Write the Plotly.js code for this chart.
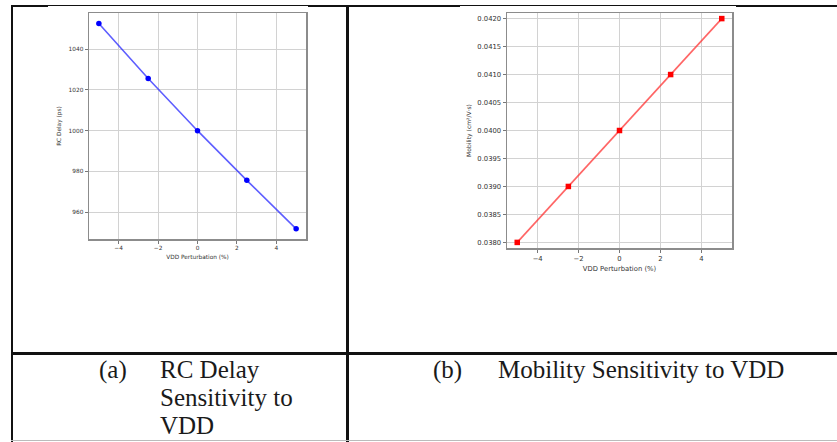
<!DOCTYPE html>
<html>
<head>
<meta charset="utf-8">
<script src="https://cdn.plot.ly/plotly-3.0.1.min.js"></script>
<style>
  html, body { margin: 0; padding: 0; background: #fff; width: 837px; height: 442px; overflow: hidden; }
  .ln { position: absolute; background: #111; }
  .cap { position: absolute; font-family: "Liberation Serif", "Times New Roman", serif; font-size: 25px; line-height: 28px; color: #1a1a1a; white-space: nowrap; }
  #c1, #c2 { position: absolute; background: #fff; }
</style>
</head>
<body>
<div class="ln" style="left:11px; top:5px; width:826px; height:2px;"></div>
<div class="ln" style="left:11px; top:5px; width:2px; height:437px;"></div>
<div class="ln" style="left:346px; top:5px; width:3px; height:437px;"></div>
<div class="ln" style="left:11px; top:352px; width:826px; height:3px;"></div>
<div class="ln" style="left:11px; top:440px; width:826px; height:1px; background:#bbb;"></div>

<div id="c1" style="left:48px; top:6px; width:260px; height:262px;"></div>
<div id="c2" style="left:460px; top:6px; width:276px; height:276px;"></div>

<div class="cap" style="left:99px; top:356px;">(a)</div>
<div class="cap" style="left:160px; top:356px;">RC Delay<br>Sensitivity to<br>VDD</div>
<div class="cap" style="left:433px; top:356px;">(b)</div>
<div class="cap" style="left:498px; top:356px;">Mobility Sensitivity to VDD</div>

<script>
// Data
const vddPerturbation = [-5, -2.5, 0, 2.5, 5];
const rcDelay = [1052.6, 1025.6, 1000.0, 975.6, 951.8];
const mobility = [0.0380, 0.0390, 0.0400, 0.0410, 0.0420];

const xTickVals = [-4, -2, 0, 2, 4];
const xTickText = ["\u22124", "\u22122", "0", "2", "4"];
const rcTickVals = [960, 980, 1000, 1020, 1040];
const mobTickVals = [0.0380, 0.0385, 0.0390, 0.0395, 0.0400, 0.0405, 0.0410, 0.0415, 0.0420];

const xLabel = "VDD Perturbation (%)";
const rcLabel = "RC Delay (ps)";
const mobLabel = "Mobility (cm\u00b2/V\u00b7s)";

function axisBase(fs) {
  return {
    showline: true, mirror: true, linecolor: '#8c8c8c', linewidth: 1.5,
    showgrid: true, gridcolor: '#d2d2d2', gridwidth: 1,
    zeroline: false, ticks: 'outside', ticklen: 3, tickwidth: 1, tickcolor: '#777',
    tickfont: { family: 'DejaVu Sans', size: fs, color: '#333' },
    automargin: false
  };
}

// Chart (a)
const fs1 = 5.8;
Plotly.newPlot('c1', [{
  x: vddPerturbation, y: rcDelay, type: 'scatter', mode: 'lines+markers',
  line: { color: 'rgba(40,40,255,0.75)', width: 1.6 },
  marker: { symbol: 'circle', size: 5.5, color: 'blue' }
}], {
  width: 260, height: 262,
  margin: { l: 41, r: 2, t: 7, b: 29 },
  paper_bgcolor: '#fff', plot_bgcolor: '#fff', showlegend: false,
  xaxis: Object.assign(axisBase(fs1), {
    range: [-5.5, 5.5], tickvals: xTickVals, ticktext: xTickText,
    title: { text: xLabel, font: { family: 'DejaVu Sans', size: fs1, color: '#333' }, standoff: 4 }
  }),
  yaxis: Object.assign(axisBase(fs1), {
    range: [946.8, 1057.8], tickvals: rcTickVals,
    title: { text: rcLabel, font: { family: 'DejaVu Sans', size: fs1, color: '#333' }, standoff: 6 }
  })
}, { displayModeBar: false, staticPlot: true });

// Chart (b)
const fs2 = 6.8;
Plotly.newPlot('c2', [{
  x: vddPerturbation, y: mobility, type: 'scatter', mode: 'lines+markers',
  line: { color: 'rgba(255,50,50,0.75)', width: 1.6 },
  marker: { symbol: 'square', size: 5.5, color: 'red' }
}], {
  width: 276, height: 276,
  margin: { l: 47, r: 4, t: 7, b: 34 },
  paper_bgcolor: '#fff', plot_bgcolor: '#fff', showlegend: false,
  xaxis: Object.assign(axisBase(fs2), {
    range: [-5.5, 5.5], tickvals: xTickVals, ticktext: xTickText,
    title: { text: xLabel, font: { family: 'DejaVu Sans', size: fs2, color: '#333' }, standoff: 4 }
  }),
  yaxis: Object.assign(axisBase(fs2), {
    range: [0.0379, 0.0421], tickvals: mobTickVals, tickformat: '.4f',
    title: { text: mobLabel, font: { family: 'DejaVu Sans', size: fs2 - 0.8, color: '#333' }, standoff: 5 }
  })
}, { displayModeBar: false, staticPlot: true });
</script>
</body>
</html>
